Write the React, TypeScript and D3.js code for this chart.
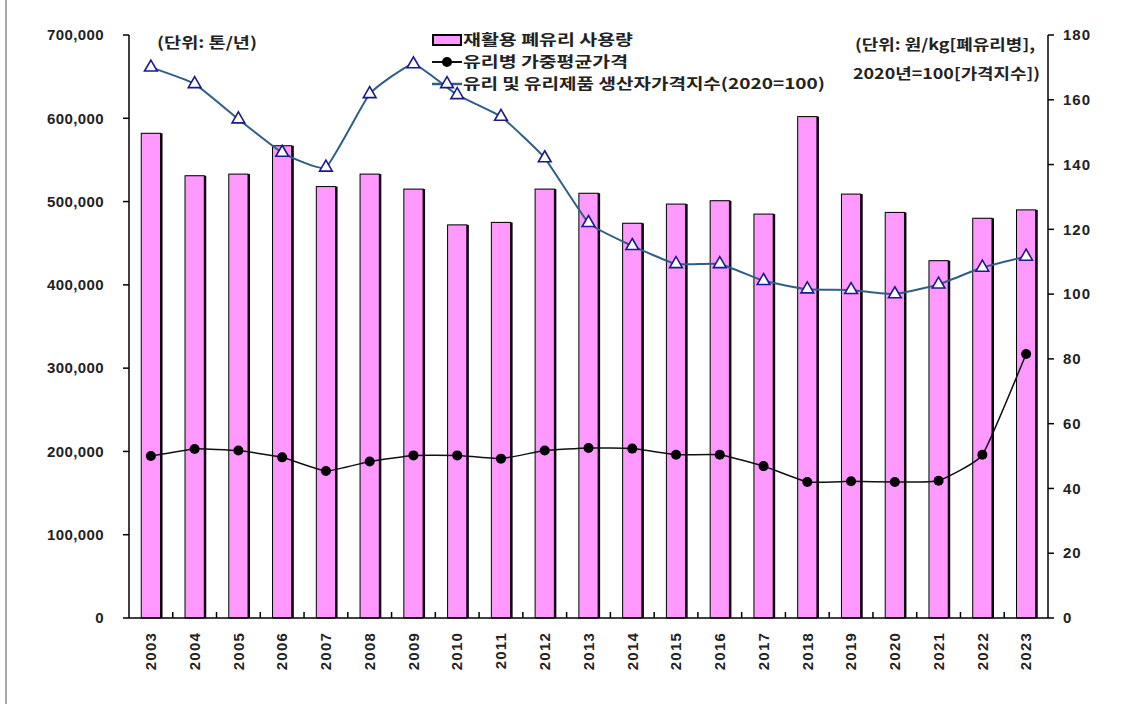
import React, { useEffect, useRef } from 'react';
import * as d3 from 'd3';

// years on the x axis
const years: string[] = [
  '2003', '2004', '2005', '2006', '2007', '2008', '2009', '2010', '2011', '2012', '2013',
  '2014', '2015', '2016', '2017', '2018', '2019', '2020', '2021', '2022', '2023',
];

// 재활용 폐유리 사용량 (톤/년), left axis
const recycledGlass: number[] = [
  582000, 531000, 533000, 567000, 518000, 533000, 515000, 472000, 475000, 515000, 510000,
  474000, 497000, 501000, 485000, 602000, 509000, 487000, 429000, 480000, 490000,
];

// 유리병 가중평균가격 (원/kg), right axis
const bottlePrice: number[] = [
  50.0, 52.2, 51.7, 49.6, 45.4, 48.3, 50.2, 50.2, 49.2, 51.7, 52.5,
  52.3, 50.4, 50.4, 46.9, 42.0, 42.2, 42.0, 42.4, 50.4, 81.5,
];

// 유리 및 유리제품 생산자가격지수 (2020=100), right axis
const priceIndex: number[] = [
  170.0, 164.9, 154.0, 143.7, 139.1, 161.8, 171.0, 161.5, 154.8, 142.0, 122.0,
  114.9, 109.3, 109.3, 104.1, 101.5, 101.3, 100.0, 103.0, 108.2, 111.6,
];

const leftTicks: number[] = [0, 100000, 200000, 300000, 400000, 500000, 600000, 700000];
const rightTicks: number[] = [0, 20, 40, 60, 80, 100, 120, 140, 160, 180];

const legendLabels: string[] = [
  '재활용 폐유리 사용량',
  '유리병 가중평균가격',
  '유리 및 유리제품 생산자가격지수(2020=100)',
];

const FONT = "'Liberation Sans', Arial, 'Noto Sans CJK KR', sans-serif";
const KFONT = "'Noto Sans CJK KR', 'Liberation Sans', sans-serif";

const App = () => {
  const ref = useRef<SVGSVGElement | null>(null);

  useEffect(() => {
    drawChart();
    return () => {
      if (ref.current) d3.select(ref.current).selectAll('*').remove();
    };
  }, []);

  const drawChart = () => {
    const svg = d3.select(ref.current);
    svg.selectAll('*').remove();

    // plot area
    const left = 129, right = 1048, top = 35, bottom = 618;

    const x = d3.scaleBand<string>().domain(years).range([left, right]).padding(0);
    const yL = d3.scaleLinear().domain([0, 700000]).range([bottom, top]);
    const yR = d3.scaleLinear().domain([0, 180]).range([bottom, top]);
    const barW = x.bandwidth() * 0.44;
    const cx = (d: string) => (x(d) as number) + x.bandwidth() / 2;

    // outer frame line on the left
    svg.append('line')
      .attr('x1', 6).attr('x2', 6).attr('y1', 0).attr('y2', 704)
      .attr('stroke', '#555').attr('stroke-width', 1);

    // bars (with a dark shadow on the right)
    const bars = svg.append('g');
    years.forEach((yr, i) => {
      const bx = cx(yr) - barW / 2;
      const by = yL(recycledGlass[i]);
      bars.append('rect')
        .attr('x', bx + 2).attr('y', by).attr('width', barW).attr('height', bottom - by)
        .attr('fill', '#000');
      bars.append('rect')
        .attr('x', bx).attr('y', by).attr('width', barW).attr('height', bottom - by)
        .attr('fill', '#FF99FF').attr('stroke', '#000').attr('stroke-width', 1);
    });

    // axes lines
    const ax = svg.append('g').attr('stroke', '#000').attr('stroke-width', 1.5);
    ax.append('line').attr('x1', left).attr('x2', left).attr('y1', top).attr('y2', bottom);
    ax.append('line').attr('x1', right).attr('x2', right).attr('y1', top).attr('y2', bottom);
    ax.append('line').attr('x1', left).attr('x2', right).attr('y1', bottom).attr('y2', bottom);

    leftTicks.forEach(t => {
      ax.append('line').attr('x1', left - 6).attr('x2', left).attr('y1', yL(t)).attr('y2', yL(t));
    });
    rightTicks.forEach(t => {
      ax.append('line').attr('x1', right).attr('x2', right + 6).attr('y1', yR(t)).attr('y2', yR(t));
    });
    years.forEach((yr, i) => {
      if (i === 0) return;
      const tx = x(yr) as number;
      ax.append('line').attr('x1', tx).attr('x2', tx).attr('y1', bottom).attr('y2', bottom - 6);
    });

    // tick labels
    const fmt = d3.format(',');
    svg.append('g').selectAll('text').data(leftTicks).enter().append('text')
      .attr('x', 104).attr('y', d => yL(d)).attr('dy', '0.35em')
      .attr('text-anchor', 'end').attr('font-family', FONT).attr('font-size', 15)
      .attr('font-weight', 'bold').attr('fill', '#222').attr('letter-spacing', '0.4')
      .text(d => fmt(d));

    svg.append('g').selectAll('text').data(rightTicks).enter().append('text')
      .attr('x', 1063).attr('y', d => yR(d)).attr('dy', '0.35em')
      .attr('text-anchor', 'start').attr('font-family', FONT).attr('font-size', 15)
      .attr('font-weight', 'bold').attr('fill', '#222').attr('letter-spacing', '1')
      .text(d => d);

    svg.append('g').selectAll('text').data(years).enter().append('text')
      .attr('transform', d => `translate(${cx(d)},${632}) rotate(-90)`)
      .attr('dy', '0.35em').attr('text-anchor', 'end')
      .attr('font-family', FONT).attr('font-size', 15).attr('font-weight', 'bold').attr('fill', '#222')
      .attr('letter-spacing', '1.2')
      .text(d => d);

    // price index line
    const lineIdx = d3.line<number>()
      .x((_, i) => cx(years[i]))
      .y(d => yR(d))
      .curve(d3.curveCardinal.tension(0.6));
    svg.append('path')
      .attr('d', lineIdx(priceIndex))
      .attr('fill', 'none').attr('stroke', '#2F5F86').attr('stroke-width', 2);

    const tri = d3.symbol().type(d3.symbolTriangle).size(70);
    svg.append('g').selectAll('path').data(priceIndex).enter().append('path')
      .attr('d', tri)
      .attr('transform', (d, i) => `translate(${cx(years[i])},${yR(d)})`)
      .attr('fill', '#fff').attr('stroke', '#1A1A8C').attr('stroke-width', 1.6);

    // bottle price line
    const linePrice = d3.line<number>()
      .x((_, i) => cx(years[i]))
      .y(d => yR(d))
      .curve(d3.curveCardinal.tension(0.6));
    svg.append('path')
      .attr('d', linePrice(bottlePrice))
      .attr('fill', 'none').attr('stroke', '#111').attr('stroke-width', 1.5);

    svg.append('g').selectAll('circle').data(bottlePrice).enter().append('circle')
      .attr('cx', (_, i) => cx(years[i])).attr('cy', d => yR(d)).attr('r', 5)
      .attr('fill', '#000');

    // unit texts
    const unit = (t: string, ux: number, uy: number, len: number) =>
      svg.append('text')
        .attr('x', ux).attr('y', uy).attr('dy', '0.35em')
        .attr('font-family', KFONT).attr('font-size', 15).attr('font-weight', 'bold').attr('fill', '#222')
        .attr('textLength', len).attr('lengthAdjust', 'spacingAndGlyphs')
        .text(t);
    unit('(단위: 톤/년)', 157, 43, 100);
    unit('(단위: 원/kg[폐유리병],', 855, 45, 180);
    unit('2020년=100[가격지수])', 853, 74, 187);

    // legend
    const lg = svg.append('g');
    const lx = 432;
    const rowY = [40, 62, 84];
    const rowLen = [170, 165, 362];
    lg.append('rect')
      .attr('x', lx + 1).attr('y', rowY[0] - 5).attr('width', 28).attr('height', 10)
      .attr('fill', '#FF99FF').attr('stroke', '#000').attr('stroke-width', 2);
    lg.append('line')
      .attr('x1', lx).attr('x2', lx + 30).attr('y1', rowY[1]).attr('y2', rowY[1])
      .attr('stroke', '#111').attr('stroke-width', 2);
    lg.append('circle').attr('cx', lx + 15).attr('cy', rowY[1]).attr('r', 5).attr('fill', '#000');
    lg.append('line')
      .attr('x1', lx).attr('x2', lx + 30).attr('y1', rowY[2]).attr('y2', rowY[2])
      .attr('stroke', '#2F5F86').attr('stroke-width', 2.5);
    lg.append('path').attr('d', tri)
      .attr('transform', `translate(${lx + 15},${rowY[2]})`)
      .attr('fill', '#fff').attr('stroke', '#1A1A8C').attr('stroke-width', 1.6);
    legendLabels.forEach((t, i) => {
      lg.append('text')
        .attr('x', lx + 31).attr('y', rowY[i]).attr('dy', '0.35em')
        .attr('font-family', KFONT).attr('font-size', 15).attr('font-weight', 'bold').attr('fill', '#222')
        .attr('textLength', rowLen[i]).attr('lengthAdjust', 'spacingAndGlyphs')
        .text(t);
    });
  };

  return (
    <svg
      ref={ref}
      width={1139}
      height={704}
      style={{ position: 'absolute', left: 0, top: 0, background: '#fff' }}
    />
  );
};

export default App;
